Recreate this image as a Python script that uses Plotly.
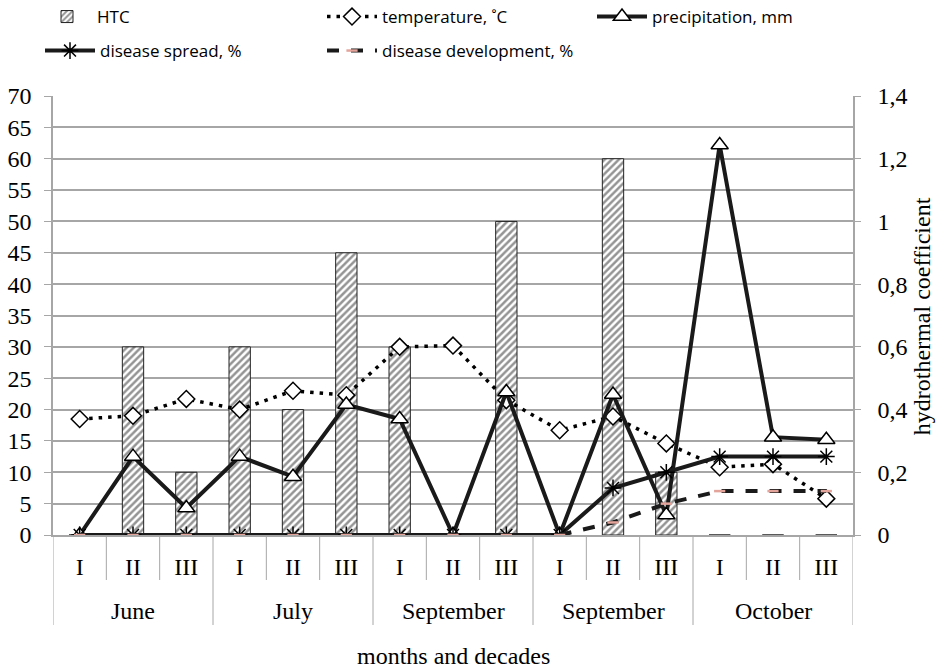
import plotly.graph_objects as go

months = ["June", "July", "September", "September", "October"]
decades = ["I", "II", "III"]

htc = [0, 0.6, 0.2, 0.6, 0.4, 0.9, 0.6, 0, 1.0, 0, 1.2, 0.2, 0, 0, 0]
temperature = [18.5, 19, 21.7, 20, 23, 22.3, 30, 30.2, 21.5, 16.7, 18.9, 14.6, 10.8, 11.3, 5.8]
precipitation = [0, 12.5, 4.3, 12.5, 9.3, 20.8, 18.5, 0, 22.8, 0, 22.4, 3.2, 62.2, 15.6, 15.2]
disease_spread = [0, 0, 0, 0, 0, 0, 0, 0, 0, 0, 7.5, 10, 12.5, 12.5, 12.5]
disease_development = [0, 0, 0, 0, 0, 0, 0, 0, 0, 0, 2, 5, 7, 7, 7]

left_ticks = list(range(0, 75, 5))
right_tickvals = [0, 0.2, 0.4, 0.6, 0.8, 1.0, 1.2, 1.4]
right_ticktext = ["0", "0,2", "0,4", "0,6", "0,8", "1", "1,2", "1,4"]

n = len(months) * len(decades)
xs = list(range(n))
tick_text = decades * len(months)

SERIF = "Liberation Serif"
SANS = "Open Sans"
GRID = "#a6a6a6"

fig = go.Figure()

fig.add_trace(go.Bar(
    x=xs, y=htc, name="HTC", yaxis="y", width=0.4,
    marker=dict(color="white", line=dict(color="#222222", width=1),
                pattern=dict(shape="/", fgcolor="#2a2a2a", bgcolor="white", size=5, solidity=0.5)),
    legend="legend", showlegend=True,
))
fig.add_trace(go.Scatter(
    x=xs, y=temperature, name="temperature, ˚C", yaxis="y2", mode="lines+markers",
    line=dict(color="black", width=3.5, dash="3.5px,6px"),
    marker=dict(symbol="diamond", size=13, color="white", line=dict(color="black", width=1.5)),
    legend="legend2", showlegend=True,
))
fig.add_trace(go.Scatter(
    x=xs, y=precipitation, name="precipitation, mm", yaxis="y2", mode="lines+markers",
    line=dict(color="#1a1a1a", width=4),
    marker=dict(symbol="triangle-up", size=15, color="white", line=dict(color="black", width=1.5)),
    legend="legend3", showlegend=True,
))
fig.add_trace(go.Scatter(
    x=xs, y=disease_spread, name="disease spread, %", yaxis="y2", mode="lines+markers",
    line=dict(color="#1a1a1a", width=4),
    marker=dict(symbol="asterisk-open", size=14, color="black", line=dict(color="black", width=1.5)),
    legend="legend4", showlegend=True,
))
fig.add_trace(go.Scatter(
    x=xs, y=disease_development, name="disease development, %", yaxis="y2", mode="lines+markers",
    line=dict(color="#1a1a1a", width=4, dash="dash"),
    marker=dict(symbol="line-ew-open", size=8, color="#e3a49b", line=dict(color="#e3a49b", width=2.5)),
    legend="legend5", showlegend=True,
))

# divider lines under the category axis
shapes = []
for k in range(n + 1):
    depth = -0.205 if k % 3 == 0 else -0.1025
    shapes.append(dict(type="line", xref="x", yref="paper", x0=k - 0.5, x1=k - 0.5,
                       y0=0, y1=depth, line=dict(color=GRID, width=1)))

annotations = []
for i, m in enumerate(months):
    annotations.append(dict(text=m, x=i * 3 + 1, xref="x", y=-0.173, yref="paper",
                            showarrow=False, xanchor="center", yanchor="middle",
                            font=dict(family=SERIF, size=24, color="black")))
annotations.append(dict(text="months and decades", x=0.5, xref="paper", y=-0.276, yref="paper",
                        showarrow=False, xanchor="center", yanchor="middle",
                        font=dict(family=SERIF, size=24, color="black")))
annotations.append(dict(text="hydrothermal coefficient", x=1.0865, xref="paper", y=0.499, yref="paper",
                        showarrow=False, xanchor="center", yanchor="middle", textangle=-90,
                        font=dict(family=SERIF, size=24, color="black")))

leg_common = dict(orientation="h", bgcolor="rgba(0,0,0,0)", itemwidth=50,
                  font=dict(family=SANS, size=17, color="black"),
                  xanchor="left", yanchor="middle", tracegroupgap=0)

def px_x(p):
    return (p - 53) / 800.0

def px_y(p):
    return (535 - p) / 439.0

fig.update_layout(
    width=938, height=671,
    margin=dict(l=53, r=85, t=96, b=136, autoexpand=False),
    showlegend=True,
    plot_bgcolor="white", paper_bgcolor="white",
    font=dict(family=SERIF, size=24, color="black"),
    barmode="overlay",
    xaxis=dict(range=[-0.5, n - 0.5], tickvals=xs, ticktext=tick_text, ticks="",
               showline=True, linecolor=GRID, linewidth=1.5, showgrid=False, zeroline=False,
               ticklabelstandoff=9, tickfont=dict(family=SERIF, size=24, color="black")),
    yaxis=dict(range=[0, 1.4], side="right", tickvals=right_tickvals, ticktext=right_ticktext,
               showgrid=False, zeroline=False, showline=True, linecolor=GRID, linewidth=1.5,
               ticks="outside", ticklen=6, tickcolor=GRID, ticklabelstandoff=12,
               tickfont=dict(family=SERIF, size=24, color="black")),
    yaxis2=dict(range=[0, 70], overlaying="y", side="left", tickvals=left_ticks,
                showgrid=True, gridcolor=GRID, gridwidth=1.5, zeroline=False,
                showline=True, linecolor=GRID, linewidth=1.5,
                ticks="outside", ticklen=7, tickcolor=GRID, ticklabelstandoff=8,
                tickfont=dict(family=SERIF, size=24, color="black")),
    legend=dict(x=px_x(37), y=px_y(17), **leg_common),
    legend2=dict(x=px_x(322), y=px_y(17), **leg_common),
    legend3=dict(x=px_x(592), y=px_y(17), **leg_common),
    legend4=dict(x=px_x(40), y=px_y(51), **leg_common),
    legend5=dict(x=px_x(322), y=px_y(51), **leg_common),
    shapes=shapes,
    annotations=annotations,
)

fig.write_html("out.html", config={"displayModeBar": False},
               post_script="document.body.style.margin='0';")
